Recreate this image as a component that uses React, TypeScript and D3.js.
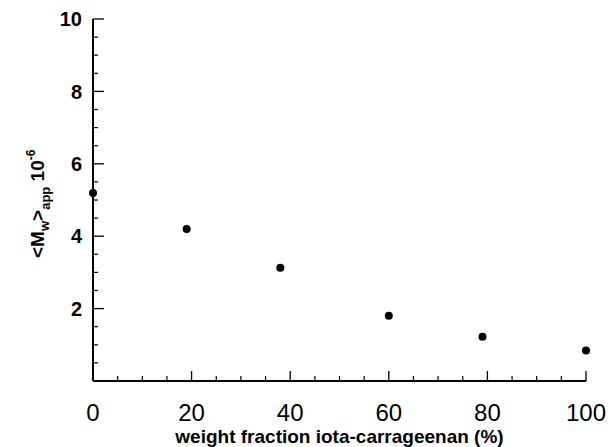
import React from "react";
import { scaleLinear, range } from "d3";

// weight fraction iota-carrageenan (%)
const fraction = [0, 19, 38, 60, 79, 100];
// <Mw>app x 10^-6
const mwApp = [5.19, 4.2, 3.13, 1.8, 1.22, 0.84];

const xMajor = [0, 20, 40, 60, 80, 100];
const yMajor = [2, 4, 6, 8, 10];

export default function App() {
  const width = 612;
  const height = 447;
  const margin = { top: 19, right: 26, bottom: 66, left: 93 };
  const innerW = width - margin.left - margin.right;
  const innerH = height - margin.top - margin.bottom;

  const x = scaleLinear().domain([0, 100]).range([0, innerW]);
  const y = scaleLinear().domain([0, 10]).range([innerH, 0]);

  const xMinor = range(5, 100, 5).filter((d) => d % 20 !== 0);
  const yMinor = range(0.5, 10, 0.5).filter((d) => d % 2 !== 0);

  const font = "'Liberation Sans', Arial, sans-serif";

  return (
    <svg
      width={width}
      height={height}
      style={{ position: "absolute", left: 0, top: 0, background: "#fff" }}
      fontFamily={font}
    >
      <g transform={"translate(" + margin.left + "," + margin.top + ")"}>
        {/* axes */}
        <line x1={0} y1={0} x2={0} y2={innerH} stroke="#000" strokeWidth={2} />
        <line x1={0} y1={innerH} x2={innerW} y2={innerH} stroke="#000" strokeWidth={2} />

        {/* y ticks (inward) */}
        {yMajor.map((d) => (
          <line key={"ym" + d} x1={0} x2={11} y1={y(d)} y2={y(d)} stroke="#000" strokeWidth={1.3} />
        ))}
        {yMinor.map((d) => (
          <line key={"yn" + d} x1={0} x2={5} y1={y(d)} y2={y(d)} stroke="#000" strokeWidth={1.2} />
        ))}
        {yMajor.map((d) => (
          <text key={"yl" + d} x={-11} y={y(d)} dy="0.36em" textAnchor="end" fontSize={20} fontWeight="bold">
            {d}
          </text>
        ))}

        {/* x ticks (inward) */}
        {xMajor.map((d) => (
          <line key={"xm" + d} x1={x(d)} x2={x(d)} y1={innerH} y2={innerH - 10} stroke="#000" strokeWidth={1.3} />
        ))}
        {xMinor.map((d) => (
          <line key={"xn" + d} x1={x(d)} x2={x(d)} y1={innerH} y2={innerH - 5} stroke="#000" strokeWidth={1.2} />
        ))}
        {xMajor.map((d) => (
          <text key={"xl" + d} x={x(d)} y={innerH + 40} textAnchor="middle" fontSize={24}>
            {d}
          </text>
        ))}

        {/* points */}
        {fraction.map((f, i) => (
          <circle key={i} cx={x(f)} cy={y(mwApp[i])} r={4} fill="#000" />
        ))}

        {/* x title */}
        <text
          x={innerW / 2}
          y={innerH + 62}
          textAnchor="middle"
          fontSize={19}
          fontWeight="bold"
        >
          weight fraction iota-carrageenan (%)
        </text>
      </g>

      {/* y title */}
      <text
        transform="translate(44,258) rotate(-90)"
        fontSize={19}
        fontWeight="bold"
      >
        {"<M"}
        <tspan fontSize={13} dy={5}>w</tspan>
        <tspan dy={-5}>{">"}</tspan>
        <tspan fontSize={13} dy={6}>app</tspan>
        <tspan dy={-6}> 10</tspan>
        <tspan fontSize={12} dy={-9}>-6</tspan>
      </text>
    </svg>
  );
}
